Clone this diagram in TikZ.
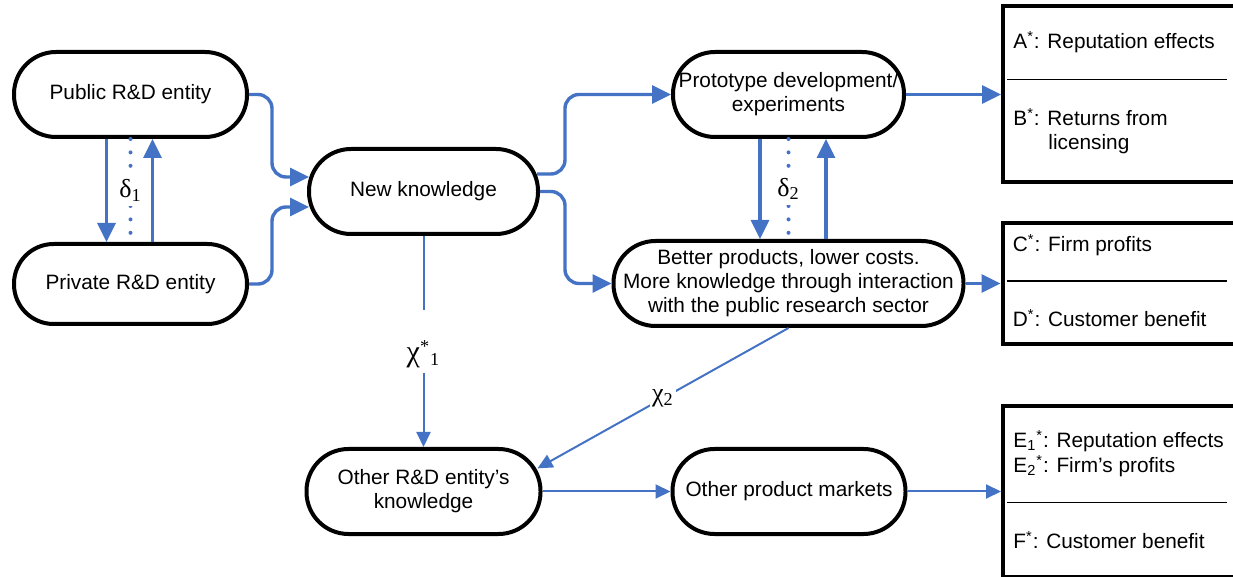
\documentclass[tikz,border=0pt]{standalone}
\usepackage{fontspec}
\setmainfont{Liberation Sans}
\newfontfamily\greekfont{Liberation Serif}
\usepackage{xcolor}
\definecolor{cFlow}{HTML}{4472C4}
\definecolor{cLine}{HTML}{000000}
\usepackage{tikz}
\usetikzlibrary{positioning,arrows.meta,calc}
\tikzset{
  node-pill/.style={draw=cLine,line width=2pt,rectangle,rounded corners=21pt,
    minimum width=116.5pt,minimum height=42.5pt,inner sep=0pt,align=center},
  node-out/.style={draw=cLine,line width=2pt,rectangle,minimum width=120pt,inner sep=0pt},
  out-text/.style={anchor=base west,inner sep=0pt,align=left},
  arrow-main/.style={-{Triangle[length=9.5pt,width=9pt]},line width=1.7pt,draw=cFlow},
  arrow-thin/.style={-{Triangle[length=7.5pt,width=7pt]},line width=1pt,draw=cFlow},
  dots-link/.style={draw=cFlow,line width=2pt,line cap=round,dash pattern=on 0pt off 6.7pt},
  greek-label/.style={fill=white,inner sep=1pt,font=\fontsize{13}{13}\greekfont},
  divider/.style={draw=cLine,line width=0.6pt},
}

\begin{document}
\begin{tikzpicture}[font=\fontsize{10.4}{12}\selectfont]
  \useasboundingbox (0,0) rectangle (616.5pt,-288.5pt);
  % entities and knowledge
  \node[node-pill] (pub) at (65.25pt,-47.25pt) {Public R\&D entity};
  \node[node-pill,minimum height=40pt,rounded corners=19.8pt,below=51.5pt of pub] (priv) {Private R\&D entity};
  \node[node-pill,minimum width=114.5pt] (know) at (211.75pt,-95.75pt) {New knowledge};
  \node[node-pill,minimum width=115.5pt,right=211pt of pub] (proto) {Prototype development/\\experiments};
  \node[node-pill,minimum width=175pt,below=50pt of proto] (better) {Better products, lower costs.\\More knowledge through interaction\\with the public research sector};
  \node[node-pill,minimum width=117pt,below=105.5pt of know] (other) {Other R\&D entity’s\\knowledge};
  \node[node-pill,right=64pt of other] (markets) {Other product markets};
  % outcome boxes
  \node[node-out,minimum height=88pt,right=47.5pt of proto] (box1) {};
  \node[node-out,minimum height=60.5pt,right=17.5pt of better] (box2) {};
  \node[node-out,minimum height=85.5pt,right=46.75pt of markets] (box3) {};
  \draw[divider] ([shift={(3pt,-37.5pt)}]box1.north west) -- ++(110pt,0);
  \draw[divider] ([shift={(3pt,-30pt)}]box2.north west) -- ++(110pt,0);
  \draw[divider] ([shift={(3pt,-49.15pt)}]box3.north west) -- ++(110pt,0);
  \node[out-text] (tA) at ([shift={(6pt,-22pt)}]box1.north west) {A\textsuperscript{*}: Reputation effects};
  \node[out-text,font=\fontsize{10.4}{12}\selectfont] (tB) at ([shift={(6pt,-72.5pt)}]box1.north west) {B\textsuperscript{*}: Returns from\\\hspace*{17.5pt}licensing};
  \node[out-text] (tC) at ([shift={(6pt,-15.35pt)}]box2.north west) {C\textsuperscript{*}: Firm profits};
  \node[out-text] (tD) at ([shift={(6pt,-53pt)}]box2.north west) {D\textsuperscript{*}: Customer benefit};
  \node[out-text,font=\fontsize{10.4}{12.5}\selectfont] (tE) at ([shift={(6pt,-34.35pt)}]box3.north west) {E\textsubscript{1}\textsuperscript{*}: Reputation effects\\E\textsubscript{2}\textsuperscript{*}: Firm’s profits};
  \node[out-text] (tF) at ([shift={(6pt,-72.35pt)}]box3.north west) {F\textsuperscript{*}: Customer benefit};
  % flows
  \draw[arrow-main] (pub.east) [rounded corners=7pt] -- ++(11.5pt,0) |- ([shift={(1pt,7.25pt)}]know.west);
  \draw[arrow-main] (priv.east) [rounded corners=7pt] -- ++(11.5pt,0) |- ([shift={(1pt,-7.75pt)}]know.west);
  \draw[arrow-main] ([shift={(-1.5pt,8.75pt)}]know.east) [rounded corners=7pt] -- ++(14pt,0) |- (proto.west);
  \draw[arrow-main] (know.east) [rounded corners=7pt] -- ++(12.5pt,0) |- (better.west);
  \draw[arrow-main] ([xshift=-12pt]pub.south) -- ([xshift=-12pt]priv.north);
  \draw[arrow-main] ([xshift=11pt]priv.north) -- ([xshift=11pt]pub.south);
  \draw[dots-link] (pub.south) -- node[greek-label,minimum height=16pt] (d1) {δ\textsubscript{1}} (priv.north);
  \draw[arrow-main] ([xshift=-14.25pt]proto.south) -- ([xshift=-14.25pt]proto.south |- better.north);
  \draw[arrow-main] ([xshift=18.75pt]proto.south |- better.north) -- ([xshift=18.75pt]proto.south);
  \draw[dots-link] (proto.south) -- node[greek-label,minimum height=16pt] (d2) {δ\textsubscript{2}} (proto.south |- better.north);
  \draw[arrow-main] (proto.east) -- (proto.east -| box1.west);
  \draw[arrow-main] (better.east) -- (better.east -| box2.west);
  % spillovers
  \draw[arrow-thin] (know.south) -- node[greek-label,minimum height=31.5pt] (x1) {\raisebox{-10pt}[0pt][0pt]{{\fontsize{15}{15}\selectfont χ}\textsuperscript{*}\textsubscript{1}}} (other.north);
  \draw[arrow-thin] (better.south) -- node[greek-label] (x2) {χ\textsubscript{2}} ([xshift=-2.5pt]other.11);
  \draw[arrow-thin] (other.east) -- (markets.west);
  \draw[arrow-thin] (markets.east) -- (markets.east -| box3.west);
\end{tikzpicture}
\end{document}
